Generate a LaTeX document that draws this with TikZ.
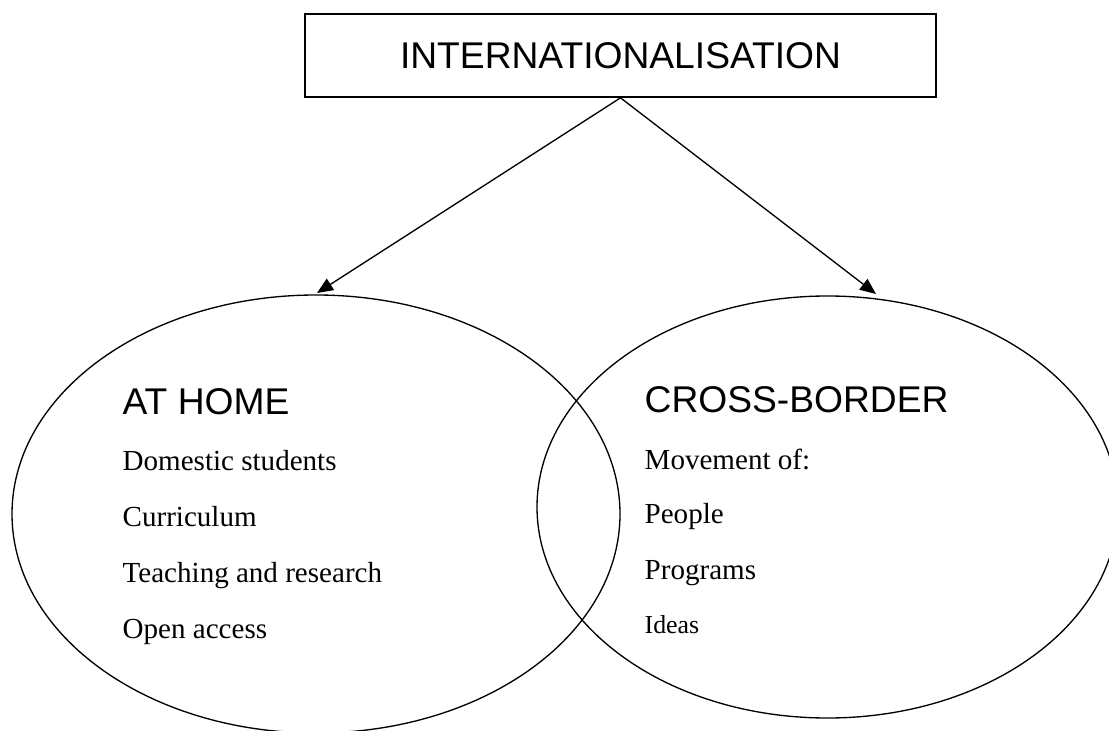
\documentclass[tikz,border=0pt]{standalone}
\usepackage{fontspec}
\setmainfont{Liberation Serif}
\newfontfamily\headfont{Liberation Sans}
\usetikzlibrary{shapes.geometric, arrows.meta, positioning}

\begin{document}
\begin{tikzpicture}[x=0.75pt,y=-0.75pt,line width=1pt,
  head/.style={font=\headfont\fontsize{27.9}{33}\selectfont,inner sep=0pt},
  item/.style={font=\fontsize{21.8}{26}\selectfont,inner sep=0pt,anchor=base west},
  region/.style={ellipse,draw,inner sep=0pt}]
\useasboundingbox (0,0) rectangle (1109,731);
\node[head,draw,line width=1.5pt,minimum width=473pt,minimum height=62pt] (intl) at (620.5,55.5) {INTERNATIONALISATION};
\node[region,minimum width=456pt,minimum height=328.5pt] (home) at (316,514) {};
\node[region,minimum width=435.75pt,minimum height=316.5pt] (cross) at (827.5,507) {};
\coordinate (hometip) at (317,293);
\coordinate (crosstip) at (876,294);
\draw[-{Triangle[length=12pt,width=10pt]}] (intl.south) -- (hometip);
\draw[-{Triangle[length=12pt,width=10pt]}] (intl.south) -- (crosstip);
\node[head,anchor=base west] (athome) at (122,414) {AT HOME};
\node[item] (dom) at (122,470) {Domestic students};
\node[item] (curr) at (122,526) {Curriculum};
\node[item] (teach) at (122,582) {Teaching and research};
\node[item] (open) at (122,638) {Open access};
\node[head,anchor=base west] (border) at (644,412) {CROSS-BORDER};
\node[item] (move) at (644,469) {Movement of:};
\node[item] (people) at (644,523) {People};
\node[item] (progs) at (644,579) {Programs};
\node[item,font=\fontsize{19.4}{23}\selectfont] (ideas) at (644,633) {Ideas};
\end{tikzpicture}
\end{document}
